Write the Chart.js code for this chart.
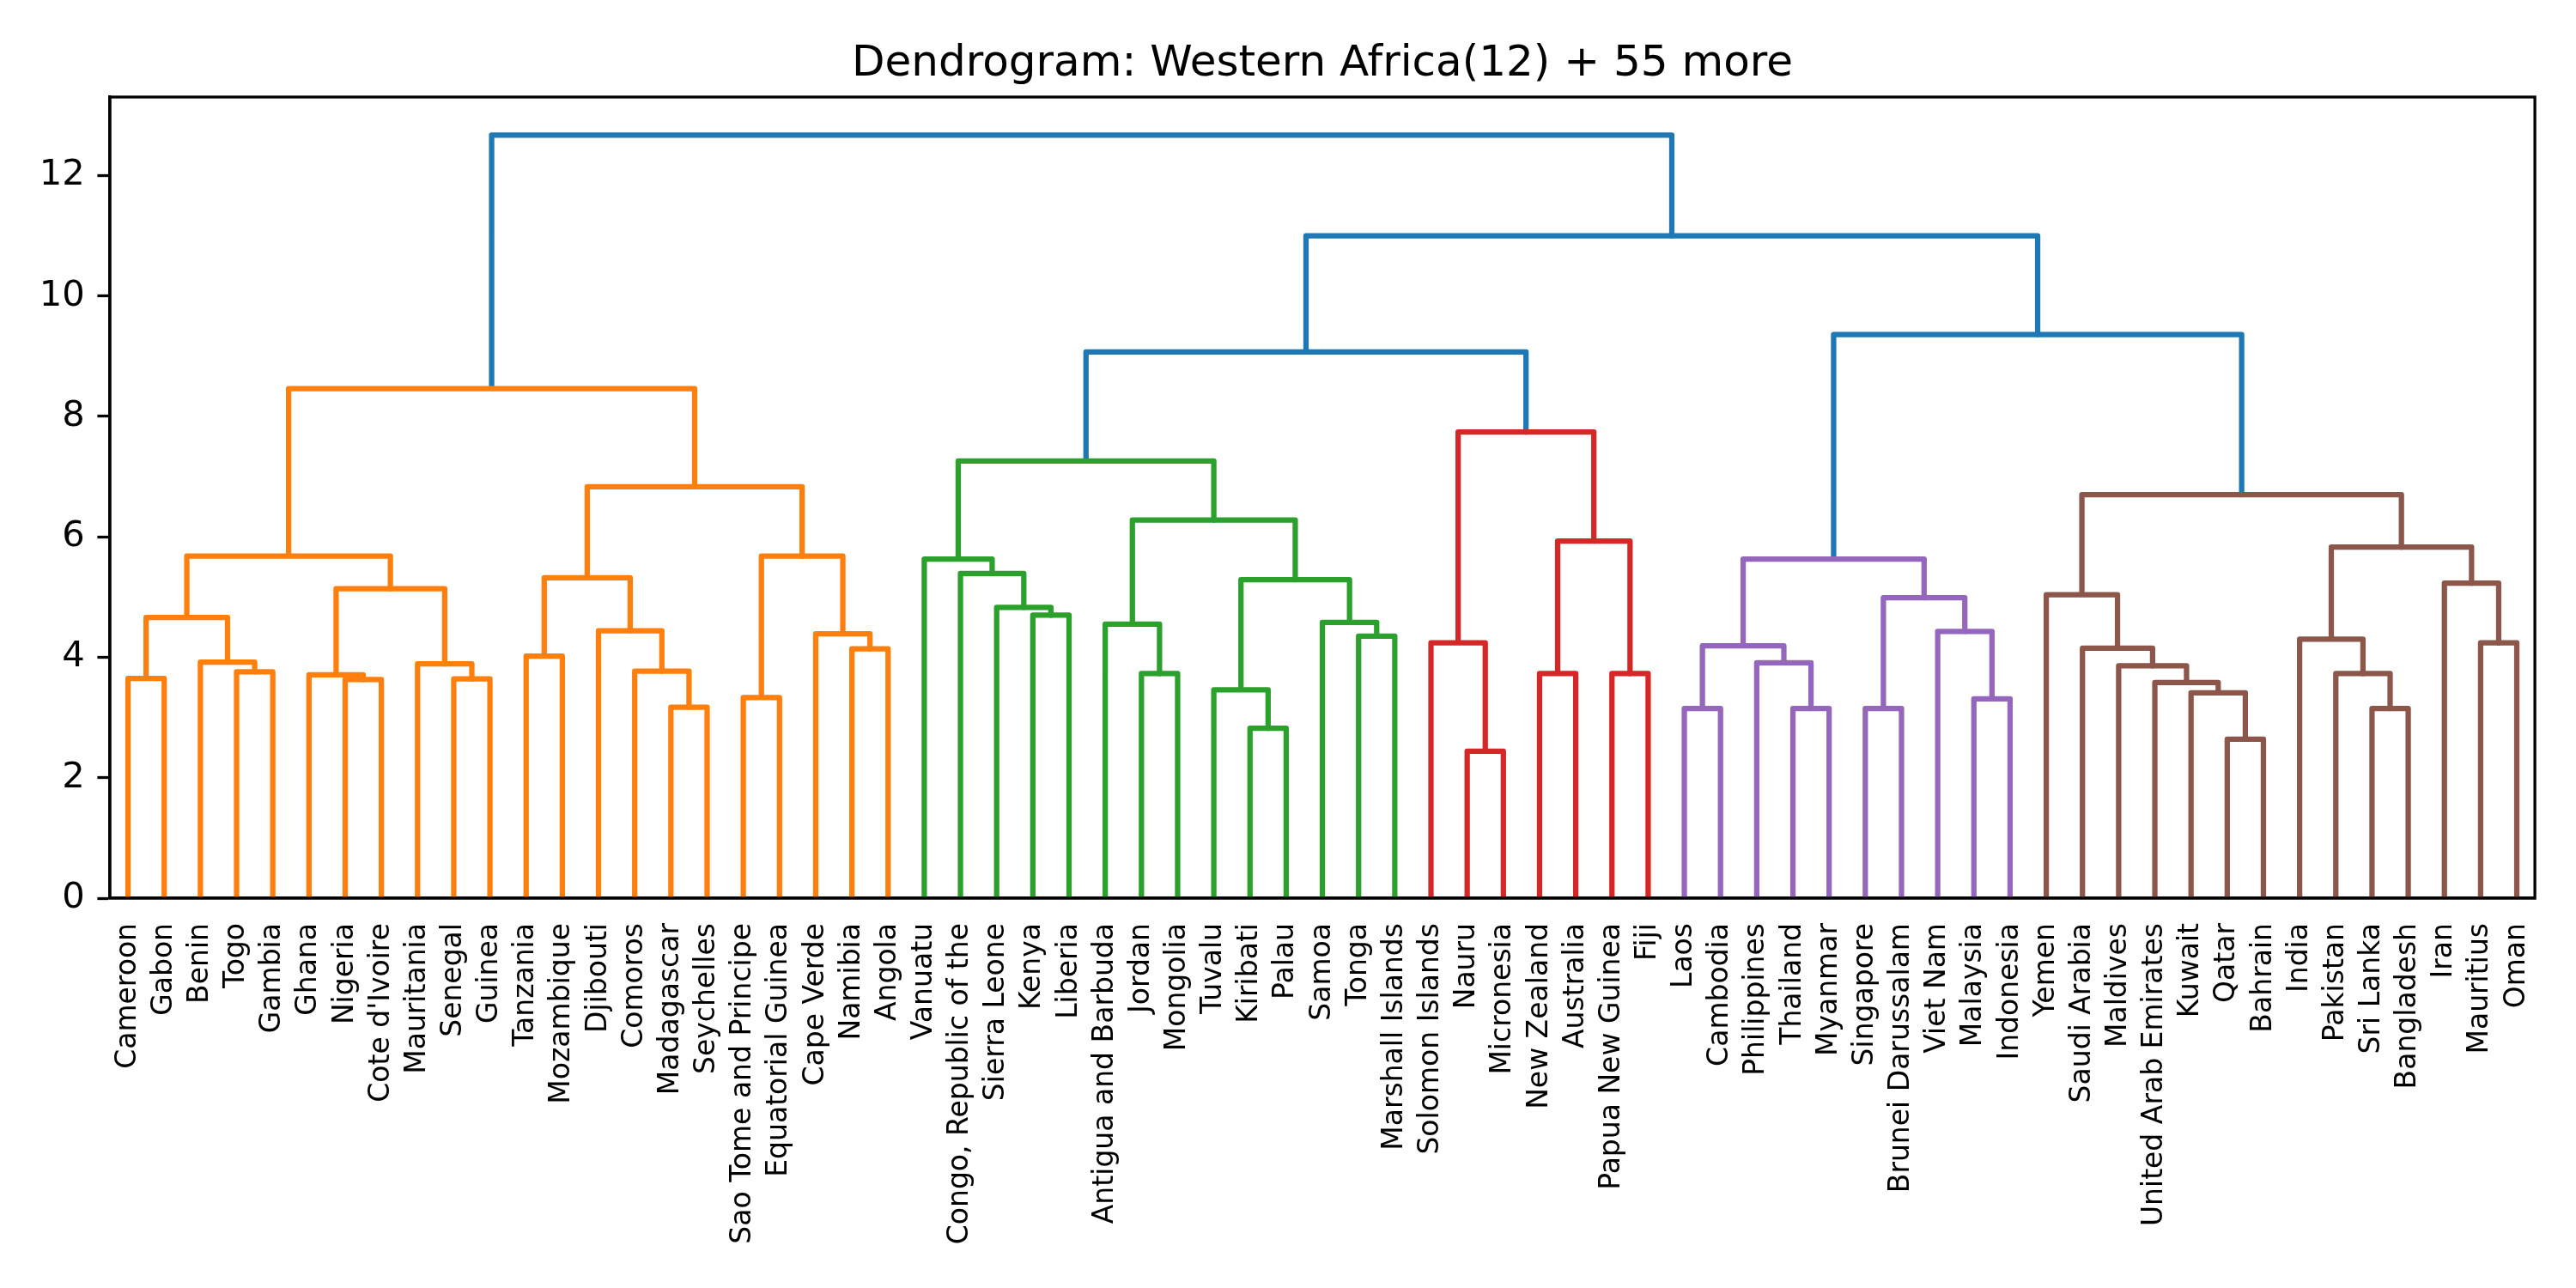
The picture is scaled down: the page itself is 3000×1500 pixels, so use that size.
<!DOCTYPE html>
<html><head><meta charset="utf-8">
<script src="https://cdn.jsdelivr.net/npm/chart.js@4.4.0/dist/chart.umd.min.js"></script>
<style>html,body{margin:0;padding:0;background:#fff;} canvas{display:block;}</style>
</head><body>
<canvas id="c" width="3000" height="1500" style="width:3000px;height:1500px"></canvas>
<script>
const chartTitle = 'Dendrogram: Western Africa(12) + 55 more';

const leafLabels = [
  'Cameroon','Gabon','Benin','Togo','Gambia','Ghana','Nigeria',"Cote d'Ivoire",'Mauritania','Senegal','Guinea',
  'Tanzania','Mozambique','Djibouti','Comoros','Madagascar','Seychelles','Sao Tome and Principe','Equatorial Guinea',
  'Cape Verde','Namibia','Angola',
  'Vanuatu','Congo, Republic of the','Sierra Leone','Kenya','Liberia','Antigua and Barbuda','Jordan','Mongolia',
  'Tuvalu','Kiribati','Palau','Samoa','Tonga','Marshall Islands',
  'Solomon Islands','Nauru','Micronesia','New Zealand','Australia','Papua New Guinea','Fiji',
  'Laos','Cambodia','Philippines','Thailand','Myanmar','Singapore','Brunei Darussalam','Viet Nam','Malaysia','Indonesia',
  'Yemen','Saudi Arabia','Maldives','United Arab Emirates','Kuwait','Qatar','Bahrain','India','Pakistan','Sri Lanka',
  'Bangladesh','Iran','Mauritius','Oman'
];

// linkage rows: [child A, child B, merge height]; ids < 67 are leaves, id 67+k is row k
const linkage = [
  [0,1,3.65],[3,4,3.76],[2,68,3.92],[67,69,4.66],[6,7,3.63],[5,71,3.71],[9,10,3.64],[8,73,3.89],
  [72,74,5.14],[70,75,5.68],[11,12,4.02],[15,16,3.17],[14,78,3.77],[13,79,4.44],[77,80,5.32],
  [17,18,3.33],[20,21,4.14],[19,83,4.39],[82,84,5.68],[81,85,6.83],[76,86,8.46],
  [25,26,4.70],[24,88,4.83],[23,89,5.39],[22,90,5.63],[28,29,3.73],[27,92,4.55],[31,32,2.82],
  [30,94,3.46],[34,35,4.35],[33,96,4.58],[95,97,5.29],[93,98,6.28],[91,99,7.26],
  [37,38,2.44],[36,101,4.24],[39,40,3.73],[41,42,3.73],[103,104,5.93],[102,105,7.74],[100,106,9.07],
  [43,44,3.15],[46,47,3.15],[45,109,3.91],[108,110,4.19],[48,49,3.15],[51,52,3.31],[50,113,4.43],
  [112,114,4.99],[111,115,5.63],
  [58,59,2.64],[57,117,3.41],[56,118,3.58],[55,119,3.86],[54,120,4.15],[53,121,5.04],[62,63,3.15],
  [61,123,3.73],[60,124,4.30],[65,66,4.24],[64,126,5.23],[125,127,5.83],[122,128,6.70],[116,129,9.36],
  [107,130,11.0],[87,131,12.67]
];

const yTicks = [0,2,4,6,8,10,12];
const clusterColors = ['#ff7f0e','#2ca02c','#d62728','#9467bd','#8c564b'];
const aboveColor = '#1f77b4';

const N = leafLabels.length;
const leafPos = leafLabels.map((_, i) => 5 + 10 * i);
const nodeX = leafPos.slice();
const nodeY = leafLabels.map(() => 0);
linkage.forEach(([a, b, h]) => { nodeX.push((nodeX[a] + nodeX[b]) / 2); nodeY.push(h); });
const maxH = Math.max(...linkage.map(l => l[2]));
const threshold = 0.7 * maxH;
const linkColor = new Array(linkage.length);
let ci = 0;
function paint(node, color) {
  if (node < N) return;
  const k = node - N;
  const [a, b, h] = linkage[k];
  let c = color;
  if (c === null) {
    if (h > threshold) { linkColor[k] = aboveColor; paint(a, null); paint(b, null); return; }
    c = clusterColors[ci++ % clusterColors.length];
  }
  linkColor[k] = c; paint(a, c); paint(b, c);
}
paint(N + linkage.length - 1, null);

const datasets = linkage.map(([a, b, h], k) => ({
  data: [{x: nodeX[a], y: nodeY[a]}, {x: nodeX[a], y: h}, {x: nodeX[b], y: h}, {x: nodeX[b], y: nodeY[b]}],
  borderColor: linkColor[k],
  borderWidth: 6.25,
  borderJoinStyle: 'round',
  borderCapStyle: 'butt',
  pointRadius: 0,
  pointHoverRadius: 0,
  showLine: true,
  fill: false,
  tension: 0
}));

const framePlugin = {
  id: 'frame',
  afterDraw(chart) {
    const {ctx, chartArea: a} = chart;
    ctx.save();
    ctx.strokeStyle = '#000';
    ctx.lineWidth = 3.3;
    ctx.strokeRect(a.left, a.top, a.right - a.left, a.bottom - a.top);
    ctx.restore();
  }
};

Chart.defaults.font.family = 'DejaVu Sans';
Chart.defaults.color = '#000';

new Chart(document.getElementById('c'), {
  type: 'scatter',
  data: { datasets },
  options: {
    responsive: false,
    devicePixelRatio: 1,
    animation: false,
    events: [],
    layout: { padding: { left: 0, right: 44, top: 0, bottom: 0 } },
    plugins: {
      legend: { display: false },
      tooltip: { enabled: false },
      title: {
        display: true,
        text: chartTitle,
        fullSize: false,
        color: '#000',
        font: { size: 50, weight: 'normal', lineHeight: 1.2 },
        padding: { top: 45, bottom: 8 }
      }
    },
    scales: {
      x: {
        type: 'linear',
        min: 0,
        max: 10 * N,
        afterBuildTicks: s => { s.ticks = leafPos.map(v => ({ value: v })); },
        afterFit: s => { s.height = 454; },
        ticks: {
          autoSkip: false,
          minRotation: 90,
          maxRotation: 90,
          padding: 29,
          font: { size: 33 },
          color: '#000',
          callback: (v, i) => leafLabels[i]
        },
        grid: { display: false, drawTicks: false },
        border: { display: true, color: '#000', width: 3.3 }
      },
      y: {
        type: 'linear',
        min: 0,
        max: maxH * 1.05,
        afterBuildTicks: s => { s.ticks = yTicks.map(v => ({ value: v })); },
        afterFit: s => { s.width = 128; },
        ticks: {
          padding: 14.6,
          font: { size: 41.7 },
          color: '#000',
          callback: v => String(v)
        },
        grid: { display: true, drawOnChartArea: false, drawTicks: true, tickLength: 14.6, tickWidth: 3.3, tickColor: '#000' },
        border: { display: true, color: '#000', width: 3.3 }
      }
    }
  },
  plugins: [framePlugin]
});
</script>
</body></html>
